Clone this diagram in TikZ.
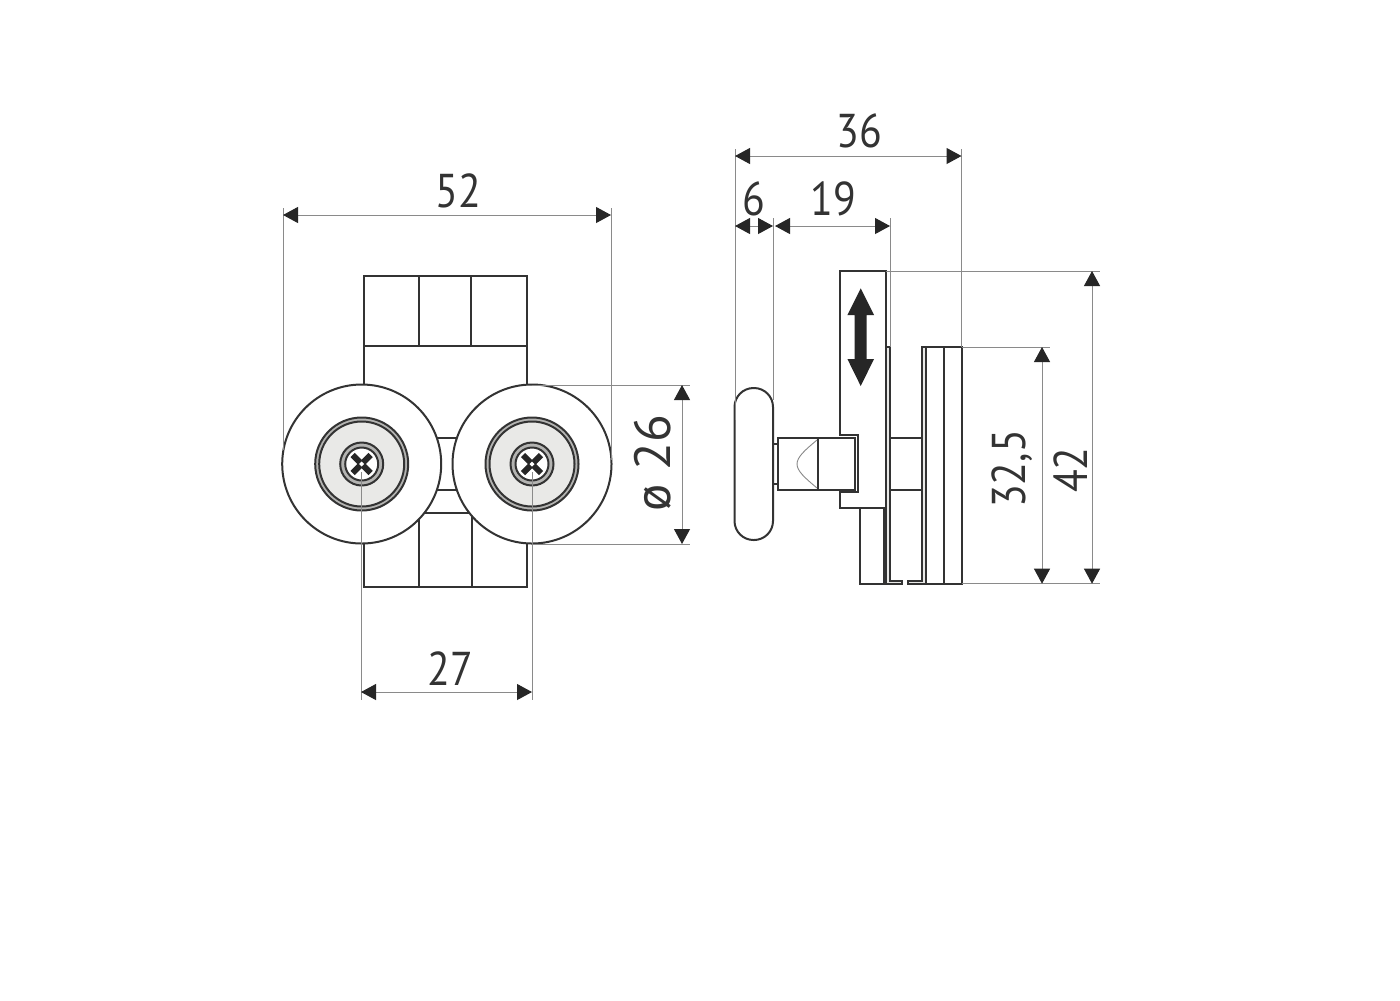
\documentclass[tikz,border=0pt]{standalone}
\usepackage{fontspec}
\setmainfont[FakeStretch=0.88]{PT Sans}
\newfontfamily\widefont{PT Sans}
\usetikzlibrary{arrows.meta}
\definecolor{partline}{HTML}{333333}
\definecolor{dimline}{HTML}{8A8A8A}
\definecolor{hubfill}{HTML}{E9E9E7}
\definecolor{ringfill}{HTML}{B4B4B2}
\definecolor{tipfill}{HTML}{262626}
\tikzset{
  part/.style={draw=partline, line width=0.2mm, line join=miter},
  extline/.style={draw=dimline, line width=0.09mm},
  dimarrow/.style={draw=dimline, line width=0.1mm,
    {Triangle[length=1.5mm, width=1.6mm, color=tipfill]}-{Triangle[length=1.5mm, width=1.6mm, color=tipfill]}},
  dimlabel/.style={text=partline, inner sep=0pt, font=\fontsize{13.5}{15}\selectfont},
}

\begin{document}
\begin{tikzpicture}[x=0.1mm, y=-0.1mm]
  \useasboundingbox[fill=white] (0,0) rectangle (1400,1000);

  % front view: body
  \draw[part] (364,385) -- (364,276) -- (527,276) -- (527,385);
  \draw[part] (364,346) -- (527,346);
  \draw[part] (419,276) -- (419,346) (471,276) -- (471,346);
  \draw[part] (430,437.5) rectangle (462,490);
  \draw[part] (364,535) -- (364,587) -- (527,587) -- (527,535);
  \draw[part] (419,587) -- (419,512.5) -- (471.5,512.5) -- (471.5,587);

  % front view: rollers
  \foreach \cx/\name in {361.7/rolla, 532/rollb} {
    \coordinate (\name) at (\cx,464);
    \draw[part, fill=white] (\name) circle[radius=79.5];
    \draw[part, fill=ringfill] (\name) circle[radius=46.5];
    \draw[part, fill=hubfill] (\name) circle[radius=42.5];
    \draw[part, fill=ringfill] (\name) circle[radius=21.5];
    \draw[part, fill=white] (\name) circle[radius=16.5];
    \draw[tipfill, line width=0.6mm] ([shift={(-9,-9)}]\name) -- ([shift={(9,9)}]\name);
    \draw[tipfill, line width=0.6mm] ([shift={(-9,9)}]\name) -- ([shift={(9,-9)}]\name);
    \fill[white] ([shift={(-2.5,0)}]\name) -- ([shift={(0,-2.5)}]\name) -- ([shift={(2.5,0)}]\name) -- ([shift={(0,2.5)}]\name) -- cycle;
  }

  % side view: wheel and shaft
  \draw[part, rounded corners=1.9mm] (734.5,388) rectangle (773,540);
  \draw[part] (773,444) -- (778,444) (773,484) -- (778,484);
  \draw[part] (778,438) rectangle (854.7,489.7);
  \draw[part] (817.7,438) -- (817.7,489.7);
  \draw[extline] (817,440) .. controls (805,450) and (797,457) .. (797,464) .. controls (797,471) and (805,478) .. (817,488);

  % side view: plate and bracket
  \draw[part] (840.3,434.7) -- (840.3,271.3) -- (886.3,271.3) -- (886.3,508.3) -- (840.3,508.3) -- (840.3,492.3) -- (857.7,492.3) -- (857.7,434.7) -- cycle;
  \draw[part] (860.3,508.3) -- (860.3,583.7) -- (884,583.7) -- (884,508.3);
  \draw[part, fill=hubfill] (886.3,346.7) -- (890.3,346.7) -- (890.3,580.7) -- (902.3,580.7) -- (902.3,584) -- (886.3,584) -- cycle;
  \draw[part, fill=hubfill] (922.3,346.7) -- (926.3,346.7) -- (926.3,584) -- (908.3,584) -- (908.3,580.7) -- (922.3,580.7) -- cycle;
  \draw[part] (890.3,438) -- (922.3,438) (890.3,489.7) -- (922.3,489.7);
  \draw[part] (926.3,346.7) rectangle (961.7,583.7);
  \draw[part] (944,346.7) -- (944,583.7);

  % travel arrow
  \fill[tipfill] (860.7,288.3) -- (874,315) -- (866.7,315) -- (866.7,359) -- (874,359) -- (860.7,386) -- (847.4,359) -- (854.7,359) -- (854.7,315) -- (847.4,315) -- cycle;

  % extension lines
  \draw[extline] (283,208) -- (283,450) (611,208) -- (611,460);
  \draw[extline] (532,385) -- (690,385) (532,544) -- (690,544);
  \draw[extline] (361,472) -- (361,700) (532,472) -- (532,700);
  \draw[extline] (735,149) -- (735,420) (961.5,149) -- (961.5,346.7);
  \draw[extline] (773,218) -- (773,400) (890,218) -- (890,346.7);
  \draw[extline] (886.3,271) -- (1100,271) (961.7,347) -- (1050,347) (961.7,583.7) -- (1100,583.7);

  % dimensions
  \coordinate (w1) at (283,215);
  \coordinate (w2) at (611,215);
  \coordinate (d1) at (682,385);
  \coordinate (d2) at (682,544);
  \coordinate (p1) at (361,692);
  \coordinate (p2) at (532,692);
  \coordinate (t1) at (735,156);
  \coordinate (t2) at (961.5,156);
  \coordinate (g1) at (735,226);
  \coordinate (g2) at (773,226);
  \coordinate (g3) at (775,226);
  \coordinate (g4) at (890,226);
  \coordinate (h1) at (1042,347);
  \coordinate (h2) at (1042,583.7);
  \coordinate (k1) at (1092,271);
  \coordinate (k2) at (1092,583.7);
  \draw[dimarrow] (w1) -- (w2);
  \draw[dimarrow] (d1) -- (d2);
  \draw[dimarrow] (p1) -- (p2);
  \draw[dimarrow] (t1) -- (t2);
  \draw[dimarrow] (g1) -- (g2);
  \draw[dimarrow] (g3) -- (g4);
  \draw[dimarrow] (h1) -- (h2);
  \draw[dimarrow] (k1) -- (k2);

  % labels
  \node[dimlabel] (lwidth) at (458,191) {52};
  \node[dimlabel, rotate=90, font=\widefont\fontsize{14.5}{15}\selectfont] (ldia) at (653,463) {ø 26};
  \node[dimlabel] (lpitch) at (450,669) {27};
  \node[dimlabel] (ltotal) at (859,131) {36};
  \node[dimlabel] (lsix) at (754,199) {6};
  \node[dimlabel] (lnine) at (833,199) {19};
  \node[dimlabel, rotate=90] (lshort) at (1012,469) {32,5};
  \node[dimlabel, rotate=90] (ltall) at (1071,470) {42};
\end{tikzpicture}
\end{document}
